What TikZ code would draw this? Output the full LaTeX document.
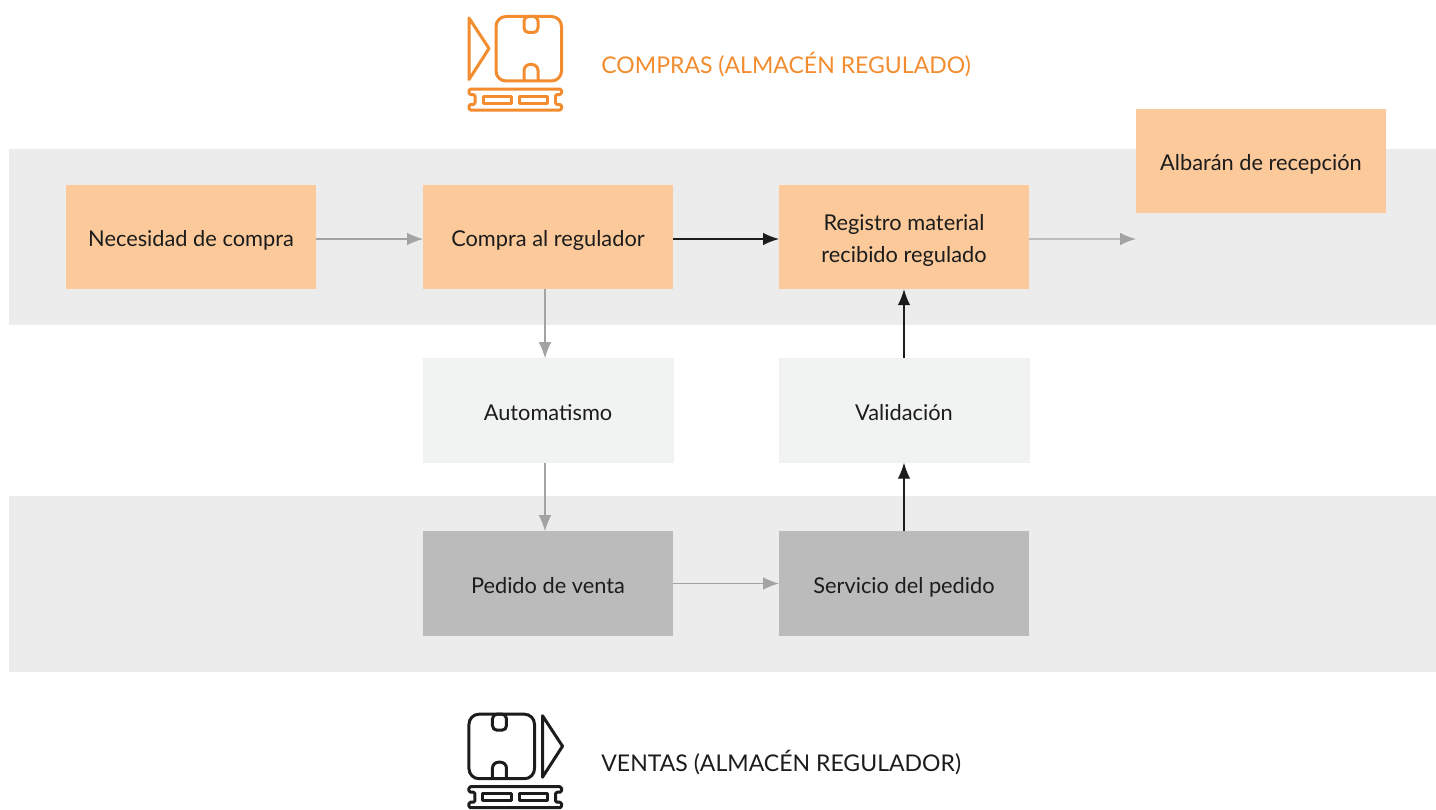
\documentclass[tikz,border=0pt]{standalone}
\usepackage{fontspec}
\setmainfont{Lato}
\usetikzlibrary{arrows.meta}
\definecolor{bandgray}{HTML}{ECECEC}
\definecolor{peach}{HTML}{FBC99A}
\definecolor{palegray}{HTML}{F1F3F2}
\definecolor{midgray}{HTML}{BBBBBB}
\definecolor{linegray}{HTML}{A3A3A3}
\definecolor{inkblack}{HTML}{1C1C1C}
\definecolor{iconorange}{HTML}{F28C2E}
\newcommand{\boxstrut}{\rule[-2.2pt]{0pt}{15.4pt}}
\tikzset{
  pics/palletbox/.style={code={
    \begin{scope}[x=0.02cm,y=-0.02cm,line width=0.06cm,line join=round,draw=#1]
      % box with notches
      \draw[rounded corners=0.2cm] (27,0) rectangle (92.5,64.5);
      \draw[rounded corners=0.09cm] (55,0) rectangle (69,16);
      \draw[rounded corners=0.12cm] (55,64.5) -- (55,48) -- (69,48) -- (69,64.5);
      % pallet
      \draw[rounded corners=0.03cm] (0,72.5) -- (92.5,72.5) -- (92.5,78) -- (86.5,78) -- (86.5,88) -- (92.5,88)
        -- (92.5,93.5) -- (0,93.5) -- (0,88) -- (6,88) -- (6,78) -- (0,78) -- cycle;
      \draw (14,79.5) rectangle (42,86.5);
      \draw (50,79.5) rectangle (78.5,86.5);
    \end{scope}
  }},
  pics/flowtip/.style={code={
    \begin{scope}[x=0.02cm,y=-0.02cm,line width=0.06cm,line join=round,draw=#1]
      \draw (0,1.5) -- (20,32) -- (0,63) -- cycle;
    \end{scope}
  }}
}
\begin{document}
\begin{tikzpicture}[
    band/.style={fill=bandgray, draw=none, minimum width=28.54cm, minimum height=3.52cm, inner sep=0pt},
    step box/.style={minimum width=5cm, minimum height=2.09cm, inner sep=0pt, outer sep=0pt, align=center,
      font=\fontsize{12.4pt}{18.2pt}\selectfont, text=inkblack},
    regulated/.style={step box, fill=peach},
    check/.style={step box, fill=palegray, draw=inkblack!6, line width=0.4pt},
    sale/.style={step box, fill=midgray},
    softflow/.style={-{Latex[length=0.32cm,width=0.25cm]}, linegray, line width=0.7pt},
    hardflow/.style={-{Latex[length=0.32cm,width=0.25cm]}, inkblack, line width=0.7pt},
    title/.style={anchor=west, inner sep=0pt, font=\fontsize{13.1pt}{18pt}\selectfont}
  ]
    \useasboundingbox (0,0) rectangle (28.72,16.2);

    % Bands
    \node[band] (bandtop) at (14.45,11.46) {};
    \node[band] (bandbottom) at (14.45,4.52) {};

    % Upper row
    \node[regulated] (necesidad) at (3.82,11.46) {\boxstrut Necesidad de compra};
    \node[regulated] (compra) at (10.96,11.46) {\boxstrut Compra al regulador};
    \node[regulated] (registro) at (18.08,11.46) {\boxstrut Registro material\\\rule[-2.2pt]{0pt}{0pt}recibido regulado};
    \node[regulated] (albaran) at (25.22,12.98) {\boxstrut Albarán de recepción};
    \coordinate (salida) at (22.72,11.42);

    % Middle row
    \node[check] (automatismo) at (10.96,7.99) {\boxstrut Automatismo};
    \node[check] (validacion) at (18.08,7.99) {\boxstrut Validación};

    % Lower row
    \node[sale] (pedido) at (10.96,4.53) {\boxstrut Pedido de venta};
    \node[sale] (servicio) at (18.08,4.53) {\boxstrut Servicio del pedido};

    % Connections
    \draw[softflow] ([yshift=-0.04cm]necesidad.east) -- ([yshift=-0.04cm]compra.west);
    \draw[hardflow] ([yshift=-0.04cm]compra.east) -- ([yshift=-0.04cm]registro.west);
    \draw[softflow] ([yshift=-0.04cm]registro.east) -- (salida);
    \draw[softflow] ([xshift=-0.06cm]compra.south) -- ([xshift=-0.06cm]automatismo.north);
    \draw[softflow] ([xshift=-0.06cm]automatismo.south) -- ([xshift=-0.06cm]pedido.north);
    \draw[softflow] (pedido.east) -- (servicio.west);
    \draw[hardflow] (servicio.north) -- (validacion.south);
    \draw[hardflow] (validacion.north) -- (registro.south);

    % Icons and titles
    \pic at (9.38,15.87) {flowtip=iconorange};
    \pic at (9.38,15.87) {palletbox=iconorange};
    \node[title, text=iconorange] (compras) at (12.02,14.9) {COMPRAS (ALMACÉN REGULADO)};
    \pic at (10.85,1.916) {flowtip=inkblack};
    \pic[xscale=-1] at (11.23,1.916) {palletbox=inkblack};
    \node[title, text=inkblack] (ventas) at (12.02,0.94) {VENTAS (ALMACÉN REGULADOR)};

  \end{tikzpicture}
\end{document}
